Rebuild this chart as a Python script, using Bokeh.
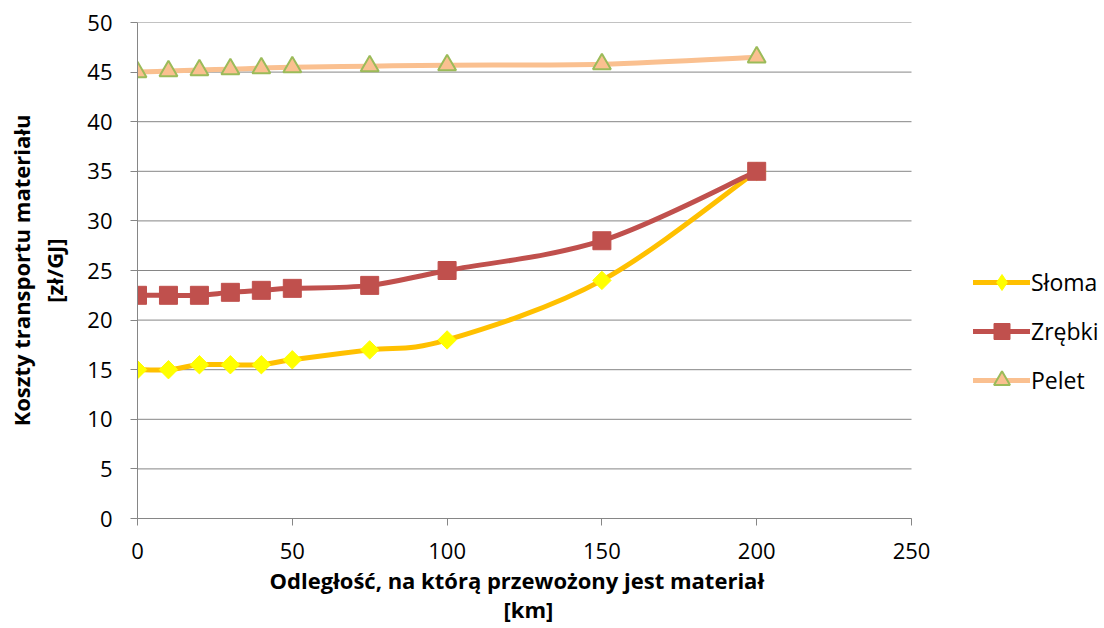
from bokeh.plotting import figure
from bokeh.models import Legend, LegendItem, FixedTicker, Title
from bokeh.embed import file_html
from bokeh.resources import INLINE
import math

distance_km = [0, 10, 20, 30, 40, 50, 75, 100, 150, 200]
sloma = [15, 15, 15.5, 15.5, 15.5, 16, 17, 18, 24, 35]
zrebki = [22.5, 22.5, 22.5, 22.8, 23, 23.2, 23.5, 25, 28, 35]
pelet = [45, 45.1, 45.2, 45.3, 45.4, 45.5, 45.6, 45.7, 45.8, 46.5]
series_names = ["Słoma", "Zrębki", "Pelet"]
x_ticks = [0, 50, 100, 150, 200, 250]
y_ticks = [0, 5, 10, 15, 20, 25, 30, 35, 40, 45, 50]
x_title = ["Odległość, na którą przewożony jest materiał", "[km]"]
y_title = "Koszty transportu materiału\n[zł/GJ]"
X_MAX = 250
Y_MAX = 50

FONT = "Open Sans"
GRID = "#868686"

W, H = 1100, 628
LEFT, TOP, BOTTOM = 137, 22, 110
AXIS_PX = 774  # width of the 0..250 part of the plot area; the rest holds the legend
frame_w = W - LEFT
x_end = X_MAX * frame_w / AXIS_PX

p = figure(width=W, height=H, output_backend="svg", toolbar_location=None,
           x_range=(0, x_end), y_range=(0, Y_MAX),
           min_border_left=LEFT, min_border_right=0, min_border_top=TOP, min_border_bottom=BOTTOM)
p.outline_line_color = None
p.background_fill_color = "white"
p.xgrid.grid_line_color = None
p.ygrid.grid_line_color = None

# horizontal gridlines limited to the 0..250 span
p.segment(x0=[0] * len(y_ticks), x1=[X_MAX] * len(y_ticks), y0=y_ticks, y1=y_ticks,
          line_color=GRID, line_width=1, level="underlay")

for ax in (p.xaxis, p.yaxis):
    ax.axis_line_color = GRID
    ax.major_tick_line_color = GRID
    ax.major_tick_out = 7
    ax.major_tick_in = 0
    ax.minor_tick_line_color = None
    ax.major_label_text_font = FONT
    ax.major_label_text_font_size = "22px"
    ax.major_label_text_color = "black"
    ax.axis_label_text_font = FONT
    ax.axis_label_text_font_size = "22px"
    ax.axis_label_text_font_style = "bold"
    ax.axis_label_text_color = "black"

p.xaxis.bounds = (0, X_MAX)
p.xaxis.major_label_standoff = 17
p.yaxis.major_label_standoff = 18
p.yaxis.axis_label_standoff = 15
p.yaxis.axis_label_text_line_height = 1.1

p.xaxis.ticker = FixedTicker(ticks=x_ticks)
p.yaxis.ticker = FixedTicker(ticks=y_ticks)
p.yaxis.axis_label = y_title

t1 = Title(text=x_title[0], align="left", offset=132, standoff=2,
           text_font=FONT, text_font_size="22px", text_font_style="bold", text_color="black")
t2 = Title(text=x_title[1], align="left", offset=366, standoff=-8,
           text_font=FONT, text_font_size="22px", text_font_style="bold", text_color="black")
p.add_layout(t1, "below")
p.add_layout(t2, "below")


def smooth(xs, ys):
    n = len(xs)
    out = dict(x0=[], y0=[], x1=[], y1=[], cx0=[], cy0=[], cx1=[], cy1=[])
    for i in range(n - 1):
        ip = max(i - 1, 0)
        inn = min(i + 2, n - 1)
        out["x0"].append(xs[i]); out["y0"].append(ys[i])
        out["x1"].append(xs[i + 1]); out["y1"].append(ys[i + 1])
        out["cx0"].append(xs[i] + (xs[i + 1] - xs[ip]) / 6)
        out["cy0"].append(ys[i] + (ys[i + 1] - ys[ip]) / 6)
        out["cx1"].append(xs[i + 1] - (xs[inn] - xs[i]) / 6)
        out["cy1"].append(ys[i + 1] - (ys[inn] - ys[i]) / 6)
    return out


items = []
b = smooth(distance_km, sloma)
l1 = p.bezier(line_color="#FFC000", line_width=5, line_cap="round", **b)
# diamond used for the legend swatch (hidden under the rotated squares in the plot)
m1_leg = p.scatter(distance_km, sloma, marker="diamond", size=16,
                   fill_color="#FFFF00", line_color="#FFFF00", line_width=1)
m1 = p.scatter(distance_km, sloma, marker="square", size=13, angle=math.pi / 4,
               fill_color="#FFFF00", line_color="#FFFF00", line_width=1)
items.append(LegendItem(label=series_names[0], renderers=[l1, m1_leg]))

b = smooth(distance_km, zrebki)
l2 = p.bezier(line_color="#C0504D", line_width=5, line_cap="round", **b)
m2 = p.scatter(distance_km, zrebki, marker="square", size=18,
               fill_color="#C0504D", line_color="#C0504D", line_width=1)
items.append(LegendItem(label=series_names[1], renderers=[l2, m2]))

b = smooth(distance_km, pelet)
l3 = p.bezier(line_color="#FAC090", line_width=5, line_cap="round", **b)
m3 = p.scatter(distance_km, pelet, marker="triangle", size=18,
               fill_color="#FAC090", line_color="#9BBB59", line_width=2)
items.append(LegendItem(label=series_names[2], renderers=[l3, m3]))

legend = Legend(items=items, location=(836, 118), orientation="vertical")
legend.margin = 0
legend.glyph_width = 57
legend.glyph_height = 40
legend.spacing = 9
legend.padding = 10
legend.label_standoff = 1
legend.label_text_font = FONT
legend.label_text_font_size = "23px"
legend.label_text_color = "black"
legend.background_fill_alpha = 0
legend.border_line_color = None
p.add_layout(legend, "center")

open("out.html", "w").write(file_html(p, INLINE))
